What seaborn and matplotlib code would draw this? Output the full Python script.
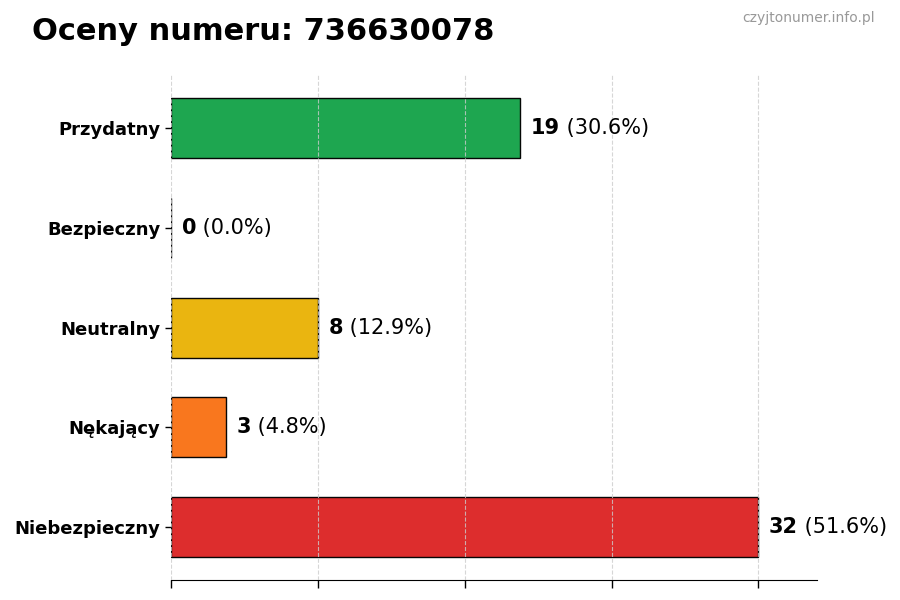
import matplotlib
matplotlib.use("Agg")
import matplotlib.pyplot as plt
import seaborn as sns
import pandas as pd

# data
categories = ["Przydatny", "Bezpieczny", "Neutralny", "Nękający", "Niebezpieczny"]
counts = [19, 0, 8, 3, 32]
percents = [30.6, 0.0, 12.9, 4.8, 51.6]
colors = ["#16a34a", "#2563eb", "#eab308", "#f97316", "#dc2626"]
ticks = [0, 8, 16, 24, 32]

df = pd.DataFrame({"kategoria": categories, "liczba": counts})

sns.set_style("white")
plt.rcParams["font.family"] = ["DejaVu Sans"]
plt.rcParams["text.color"] = "black"
plt.rcParams["xtick.color"] = "black"
plt.rcParams["ytick.color"] = "black"

fig = plt.figure(figsize=(9, 6), dpi=100)
ax = fig.add_axes([0.19, 0.033, 0.718, 0.842])

sns.barplot(data=df, y="kategoria", x="liczba", hue="kategoria",
            palette=dict(zip(categories, colors)), order=categories,
            orient="h", width=0.6, edgecolor="black", linewidth=1,
            saturation=1, alpha=0.97, legend=False, ax=ax)

ax.set_xlim(0, max(counts) * 1.1)
ax.set_ylim(len(categories) - 1 + 0.53, -0.53)
ax.set_xticks(ticks)
ax.set_xticklabels([])
ax.tick_params(axis="x", length=6, width=1, color="black", bottom=True)
ax.tick_params(axis="y", length=4, width=1, color="black", left=True, labelsize=13,
               labelcolor="black")
for lbl in ax.get_yticklabels():
    lbl.set_fontweight("bold")
ax.set_xlabel("")
ax.set_ylabel("")

ax.grid(axis="x", linestyle="--", color="#cccccc", linewidth=0.8, alpha=0.8)
ax.set_axisbelow(False)
for side in ["top", "right", "left"]:
    ax.spines[side].set_visible(False)
ax.spines["bottom"].set_color("black")

off = max(counts) * 0.018
for i, (c, p) in enumerate(zip(counts, percents)):
    t = ax.annotate(f"{c}", xy=(c + off, i), va="center", ha="left",
                    fontsize=15, fontweight="bold", color="black")
    ax.annotate(f" ({p:.1f}%)", xycoords=t, xy=(1, 0.5), va="center", ha="left",
                fontsize=15, color="black")

fig.text(0.035, 0.948, "Oceny numeru: 736630078", fontsize=22, fontweight="bold",
         ha="left", va="center", color="black")
fig.text(0.972, 0.97, "czyjtonumer.info.pl", fontsize=10, color="#999999",
         ha="right", va="center")

fig.savefig("out.png", dpi=100)
